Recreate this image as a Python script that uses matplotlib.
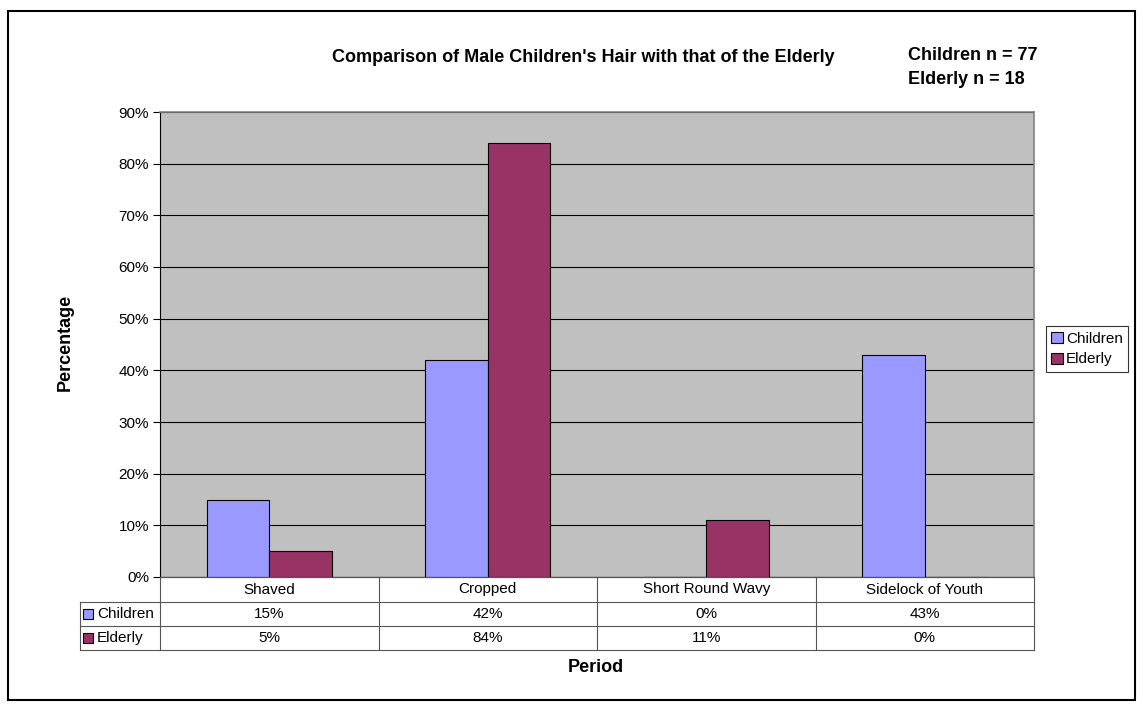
import numpy as np
import matplotlib.pyplot as plt
from matplotlib.patches import Rectangle
from matplotlib.lines import Line2D

plt.rcParams['font.family'] = ['Liberation Sans', 'DejaVu Sans']

categories = ['Shaved', 'Cropped', 'Short Round Wavy', 'Sidelock of Youth']
children = [15, 42, 0, 43]
elderly = [5, 84, 11, 0]
series_names = ['Children', 'Elderly']
colors = ['#9999FF', '#993366']

W, H = 1143, 709
fig = plt.figure(figsize=(W / 100, H / 100), dpi=100)

def fx(px):
    return px / W

def fy(py):
    return 1 - py / H

# outer frame
fig.patches.append(Rectangle((fx(8), fy(700)), fx(1135) - fx(8), fy(11) - fy(700),
                             transform=fig.transFigure, fill=False, lw=1.5, ec='black'))

left, right, top, bottom = 160, 1034, 112, 577
ax = fig.add_axes([fx(left), fy(bottom), fx(right) - fx(left), fy(top) - fy(bottom)])
ax.set_facecolor('#C0C0C0')

x = np.arange(len(categories))
bw = 1 / 3.5
ax.bar(x - bw / 2, children, bw, color=colors[0], edgecolor='black', lw=0.8, zorder=3, label=series_names[0])
ax.bar(x + bw / 2, elderly, bw, color=colors[1], edgecolor='black', lw=0.8, zorder=3, label=series_names[1])

ax.set_xlim(-0.5, len(categories) - 0.5)
ax.set_ylim(0, 90)
ax.set_yticks(range(0, 91, 10))
ax.set_yticklabels([f'{v}%' for v in range(0, 91, 10)], fontsize=11)
ax.yaxis.grid(True, color='black', lw=0.8, zorder=1)
ax.set_xticks([])
ax.tick_params(axis='y', length=5, width=0.8, pad=3)
for s in ['top', 'right']:
    ax.spines[s].set_color('#808080')
    ax.spines[s].set_linewidth(1.2)
ax.spines['left'].set_linewidth(0.8)
ax.spines['bottom'].set_linewidth(0.8)

# data table under the axis
cw = (right - left) / len(categories)
rows = [577, 602, 626, 650]
lw = 0.8
def hline(x0, x1, y):
    fig.lines.append(Line2D([fx(x0), fx(x1)], [fy(y), fy(y)], transform=fig.transFigure, color='#555555', lw=lw))
def vline(x_, y0, y1):
    fig.lines.append(Line2D([fx(x_), fx(x_)], [fy(y0), fy(y1)], transform=fig.transFigure, color='#555555', lw=lw))

hline(left, right, rows[0])
hline(80, right, rows[1])
hline(80, right, rows[2])
hline(80, right, rows[3])
vline(80, rows[1], rows[3])
for i in range(len(categories) + 1):
    vline(left + i * cw, rows[0], rows[3])

for i, c in enumerate(categories):
    cx = left + (i + 0.5) * cw
    fig.text(fx(cx), fy((rows[0] + rows[1]) / 2), c, ha='center', va='center', fontsize=11)
    fig.text(fx(cx), fy((rows[1] + rows[2]) / 2), f'{children[i]}%', ha='center', va='center', fontsize=11)
    fig.text(fx(cx), fy((rows[2] + rows[3]) / 2), f'{elderly[i]}%', ha='center', va='center', fontsize=11)

for j, name in enumerate(series_names):
    yc = (rows[j + 1] + rows[j + 2]) / 2
    fig.patches.append(Rectangle((fx(83), fy(yc + 5)), fx(10), fy(0) - fy(10),
                                 transform=fig.transFigure, fc=colors[j], ec='black', lw=0.8))
    fig.text(fx(97), fy(yc), name, ha='left', va='center', fontsize=11)

# legend
leg = fig.legend(*ax.get_legend_handles_labels(), loc='center left',
                 bbox_to_anchor=(fx(1046), fy(349)), fontsize=11, frameon=True,
                 fancybox=False, edgecolor='black', handlelength=0.75, handleheight=0.75,
                 handletextpad=0.2, borderpad=0.35, labelspacing=0.45, borderaxespad=0)
leg.get_frame().set_linewidth(0.8)

# titles
fig.text(fx(583), fy(57), "Comparison of Male Children's Hair with that of the Elderly",
         ha='center', va='center', fontsize=13, fontweight='bold')
fig.text(fx(908), fy(56), 'Children n = 77', ha='left', va='center', fontsize=13, fontweight='bold')
fig.text(fx(908), fy(79), 'Elderly n = 18', ha='left', va='center', fontsize=13, fontweight='bold')
fig.text(fx(65), fy(342), 'Percentage', ha='center', va='center', rotation=90,
         fontsize=13, fontweight='bold')
fig.text(fx(596), fy(667), 'Period', ha='center', va='center', fontsize=13, fontweight='bold')

fig.savefig('out.png', dpi=100)
